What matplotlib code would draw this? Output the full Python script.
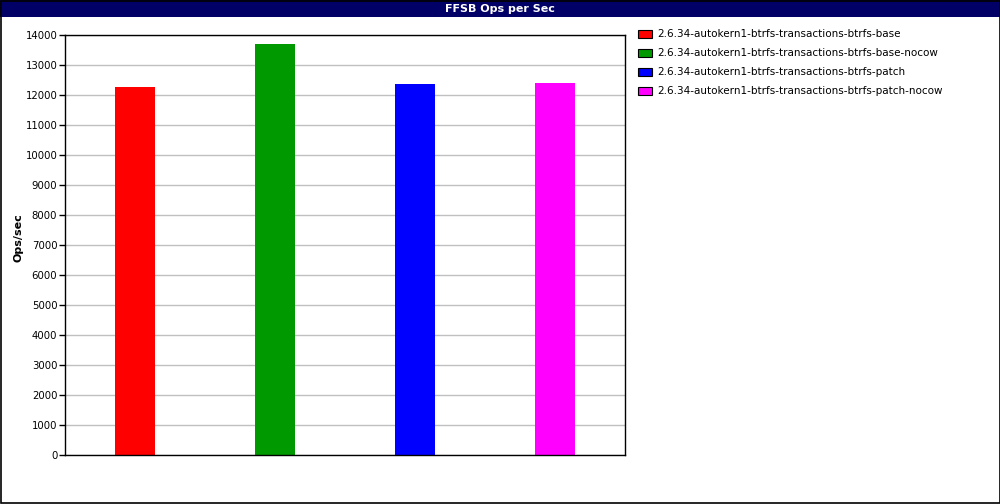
import matplotlib
matplotlib.use("Agg")
import matplotlib.pyplot as plt
from matplotlib.patches import Rectangle

# data
labels = [
    "2.6.34-autokern1-btrfs-transactions-btrfs-base",
    "2.6.34-autokern1-btrfs-transactions-btrfs-base-nocow",
    "2.6.34-autokern1-btrfs-transactions-btrfs-patch",
    "2.6.34-autokern1-btrfs-transactions-btrfs-patch-nocow",
]
ops = [12280, 13710, 12380, 12410]
colors = ["#ff0000", "#009900", "#0000ff", "#ff00ff"]
yticks = list(range(0, 14001, 1000))

W, H = 1000, 504
fig = plt.figure(figsize=(W / 100, H / 100), dpi=100)
fig.patch.set_facecolor("white")

# title bar
fig.patches.append(Rectangle((0, 1 - 17 / H), 1, 17 / H, transform=fig.transFigure,
                             facecolor="#000066", edgecolor="none", zorder=0))
fig.text(0.5, 1 - 8.5 / H, "FFSB Ops per Sec", color="white", fontsize=8,
         fontweight="bold", ha="center", va="center")
# outer border
fig.patches.append(Rectangle((0.0005, 0.001), 0.999, 0.998, transform=fig.transFigure,
                             facecolor="none", edgecolor="black", linewidth=1.2, zorder=5))

ax = fig.add_axes([65 / W, (H - 455) / H, 560 / W, 420 / H])
x = range(len(ops))
ax.bar(x, ops, width=40 / 140, color=colors, zorder=2)
ax.set_xlim(-0.5, len(ops) - 0.5)
ax.set_ylim(0, 14000)
ax.set_yticks(yticks)
ax.set_yticklabels([str(t) for t in yticks], fontsize=7.3)
ax.set_xticks([])
ax.tick_params(axis="y", length=4, width=1, pad=1.5)
ax.yaxis.grid(True, color="#c0c0c0", linewidth=1, zorder=0)
ax.set_axisbelow(True)
for s in ax.spines.values():
    s.set_linewidth(1)
ax.set_ylabel("Ops/sec", fontsize=8, fontweight="bold")
ax.yaxis.set_label_coords((24 - 65) / 560, (455 - 238) / 420)

# legend
for i, (lab, c) in enumerate(zip(labels, colors)):
    yc = 34 + 19 * i
    fig.patches.append(Rectangle((638 / W, 1 - (yc + 4) / H), 14 / W, 8 / H,
                                 transform=fig.transFigure, facecolor=c,
                                 edgecolor="black", linewidth=0.8))
    fig.text(657 / W, 1 - yc / H, lab, fontsize=7.5, ha="left", va="center")

fig.savefig("out.png", dpi=100)
